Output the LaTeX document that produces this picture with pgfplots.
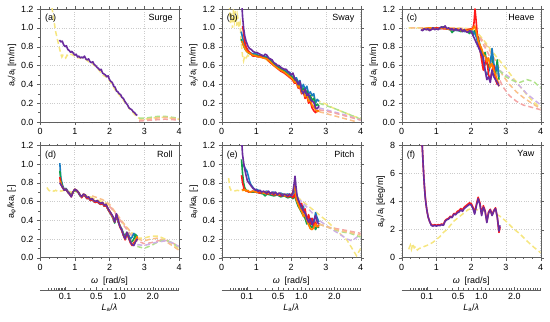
\documentclass[border=0pt]{standalone}
\usepackage{fontspec}
\setmainfont{Liberation Sans}
\usepackage{pgfplots}
\pgfplotsset{compat=1.18}
\definecolor{cyel}{HTML}{F6E680}
\definecolor{clgreen}{HTML}{B0E28A}
\definecolor{clpink}{HTML}{F4A6A6}
\definecolor{clorange}{HTML}{F9C08A}
\definecolor{clpurple}{HTML}{CDB0E6}
\definecolor{cblue}{HTML}{1A7CC1}
\definecolor{cgreen}{HTML}{12A04A}
\definecolor{cred}{HTML}{FF1A1A}
\definecolor{corange}{HTML}{FF8000}
\definecolor{cpurple}{HTML}{6A2C9E}
\definecolor{cframe}{HTML}{606060}
\tikzset{sol/.style={line width=1.6bp, line join=round},
  dsh/.style={line width=1.5bp, dash pattern=on 5bp off 3bp}}
\pgfplotsset{
  panel/.style={scale only axis, width=139bp, height=113bp,
    anchor=south west,
    xmin=0, xmax=4, ymin=0, ymax=1.2,
    xtick={0,1,2,3,4}, ytick={0,0.2,...,1.2},
    minor x tick num=3, minor y tick num=1,
    tick align=outside, major tick length=3bp, minor tick length=1.5bp,
    grid=major, grid style={dotted, line width=0.6bp, gray!40},
    axis line style={cframe}, tick style={cframe},
    font=\fontsize{9}{10.5}\selectfont,
    tick label style={font=\fontsize{9}{10.5}\selectfont, /pgf/number format/assume math mode=true},
    yticklabel style={/pgf/number format/fixed, /pgf/number format/fixed zerofill, /pgf/number format/precision=1},
    xticklabel style={/pgf/number format/fixed},
    label style={font=\fontsize{9}{10.5}\selectfont},
    ylabel shift=-2bp,
  },
  sec/.style={scale only axis, width=139bp, height=1bp, anchor=south west,
    xmin=0, xmax=4, ymin=0, ymax=1,
    axis x line*=bottom, axis y line=none,
    xtick={0.7255,1.6222,2.2942,3.2444}, xticklabels={0.1,0.5,1.0,2.0},
    minor xtick={0.2294,0.3244,0.3974,0.4588,0.5130,0.5620,0.6070,0.6489,0.6882,1.0260,1.2566,1.4510,1.7771,1.9194,2.0520,2.1764,2.4062,2.5131,2.6157,2.7145,2.8098,2.9019,2.9912,3.0779,3.1623,3.3245,3.4028,3.4793,3.5541,3.6274,3.6992,3.7697,3.8389,3.9068,3.9736},
    xtick align=inside, major tick length=3bp, minor tick length=2bp,
    axis line style={cframe}, tick style={cframe},
    tick label style={font=\fontsize{9}{10.5}\selectfont},
    xlabel={\textit{L}\textsubscript{a}/\textit{λ}},
    label style={font=\fontsize{9}{10.5}\selectfont},
    xlabel shift=-3bp,
  }
}
\begin{document}
\begin{tikzpicture}
\useasboundingbox (0,0) rectangle (550bp,322bp);
% ---------------- (a) Surge
\begin{axis}[panel, at={(40bp,200bp)}, ylabel={a\textsubscript{x}/a\textsubscript{i} [m/m]}]
\addplot[dsh, cyel] coordinates {(0.30,1.30)(0.35,1.2)(0.40,1.08)(0.45,0.96)(0.50,0.88)(0.55,0.80)(0.60,0.72)(0.63,0.69)(0.66,0.71)(0.70,0.70)(0.74,0.68)(0.78,0.71)(0.82,0.70)(0.90,0.72)(1.00,0.70)(1.10,0.68)(1.20,0.68)(1.30,0.67)(1.40,0.64)(1.50,0.62)(1.60,0.59)(1.70,0.55)(1.80,0.50)(1.90,0.48)(2.00,0.44)(2.10,0.38)(2.20,0.32)(2.30,0.28)(2.40,0.23)(2.50,0.18)(2.60,0.13)(2.70,0.09)(2.80,0.05)(2.90,0.03)(3.00,0.03)(3.20,0.04)(3.40,0.05)(3.60,0.05)(3.80,0.04)(4.00,0.03)};
\addplot[dsh, clgreen] coordinates {(2.85,0.04)(3.0,0.04)(3.2,0.05)(3.4,0.06)(3.6,0.06)(3.8,0.05)(4.0,0.04)};
\addplot[dsh, clorange] coordinates {(2.85,0.02)(3.0,0.02)(3.3,0.04)(3.6,0.05)(3.8,0.04)(4.0,0.03)};
\addplot[dsh, clpink] coordinates {(2.85,0.01)(3.2,0.02)(3.6,0.03)(4.0,0.02)};
\addplot[sol, cpurple] coordinates {(0.56,0.87)(0.60,0.85)(0.64,0.86)(0.68,0.82)(0.72,0.80)(0.76,0.81)(0.80,0.77)(0.84,0.76)(0.88,0.74)(0.92,0.75)(0.96,0.73)(1.00,0.71)(1.04,0.72)(1.08,0.69)(1.12,0.70)(1.16,0.68)(1.20,0.69)(1.24,0.68)(1.28,0.70)(1.32,0.67)(1.36,0.66)(1.40,0.67)(1.44,0.64)(1.48,0.63)(1.52,0.64)(1.56,0.61)(1.60,0.60)(1.64,0.58)(1.68,0.57)(1.72,0.55)(1.76,0.56)(1.80,0.52)(1.84,0.51)(1.88,0.50)(1.92,0.48)(1.96,0.49)(2.00,0.45)(2.04,0.43)(2.08,0.42)(2.12,0.38)(2.16,0.37)(2.20,0.33)(2.24,0.32)(2.28,0.30)(2.32,0.29)(2.36,0.26)(2.40,0.25)(2.44,0.22)(2.48,0.20)(2.52,0.18)(2.56,0.15)(2.60,0.14)(2.64,0.13)(2.68,0.11)(2.72,0.10)(2.76,0.08)(2.80,0.07)};
\node[anchor=north west, inner sep=0pt] at (rel axis cs:0.035,0.955) {(a)};
\node[anchor=north east, inner sep=0pt] at (rel axis cs:0.955,0.955) {Surge};
\end{axis}
% ---------------- (b) Sway
\begin{axis}[panel, at={(221.7bp,200bp)}, ylabel={a\textsubscript{y}/a\textsubscript{i} [m/m]}]
\addplot[dsh, cyel] coordinates {(0.22,1.25)(0.25,1.05)(0.28,1.15)(0.31,1.0)(0.34,1.2)(0.37,1.08)(0.40,1.18)(0.43,1.02)(0.46,1.12)(0.50,1.0)(0.53,1.05)(0.56,0.85)(0.60,0.70)(0.63,0.65)(0.66,0.70)(0.70,0.68)(0.75,0.71)(0.80,0.69)(0.85,0.70)(0.90,0.71)(1.00,0.70)(1.20,0.68)(1.40,0.63)(1.60,0.58)(1.80,0.53)(2.00,0.48)(2.20,0.40)(2.40,0.33)(2.60,0.28)(2.80,0.22)(3.00,0.19)(3.20,0.15)(3.40,0.12)(3.60,0.09)(3.80,0.06)(4.00,0.04)};
\addplot[dsh, clgreen] coordinates {(2.8,0.20)(3.2,0.15)(3.6,0.09)(4.0,0.03)};
\addplot[dsh, clpurple] coordinates {(2.8,0.15)(3.2,0.11)(3.6,0.07)(4.0,0.02)};
\addplot[dsh, clpink] coordinates {(2.8,0.13)(3.2,0.10)(3.6,0.06)(4.0,0.02)};
\addplot[dsh, clorange] coordinates {(2.8,0.11)(3.2,0.07)(3.6,0.03)(3.9,0.0)};
\addplot[sol, cblue] coordinates {(0.56,0.96)(0.60,0.90)(0.64,0.84)(0.68,0.80)(0.72,0.78)(0.76,0.76)(0.80,0.74)(0.85,0.73)(0.90,0.72)(0.95,0.73)(1.00,0.72)(1.05,0.71)(1.10,0.70)(1.15,0.71)(1.20,0.70)(1.25,0.69)(1.30,0.70)(1.35,0.67)(1.40,0.66)(1.45,0.64)(1.50,0.62)(1.55,0.61)(1.60,0.60)(1.65,0.58)(1.70,0.57)(1.75,0.56)(1.80,0.55)(1.85,0.54)(1.90,0.52)(1.95,0.53)(2.00,0.50)(2.05,0.51)(2.10,0.46)(2.15,0.47)(2.20,0.42)(2.25,0.44)(2.30,0.36)(2.35,0.40)(2.40,0.34)(2.45,0.38)(2.50,0.30)(2.55,0.32)(2.60,0.28)(2.65,0.30)(2.70,0.20)(2.75,0.24)(2.80,0.22)};
\addplot[sol, cgreen] coordinates {(0.56,0.88)(0.60,0.84)(0.64,0.80)(0.68,0.77)(0.72,0.75)(0.78,0.73)(0.85,0.72)(0.90,0.71)(1.00,0.71)(1.05,0.70)(1.10,0.70)(1.20,0.69)(1.30,0.68)(1.35,0.66)(1.40,0.65)(1.50,0.61)(1.60,0.59)(1.70,0.56)(1.80,0.54)(1.90,0.51)(2.00,0.49)(2.05,0.47)(2.10,0.44)(2.15,0.45)(2.20,0.39)(2.25,0.40)(2.30,0.33)(2.35,0.36)(2.40,0.30)(2.45,0.33)(2.50,0.26)(2.55,0.28)(2.60,0.23)(2.65,0.25)(2.70,0.17)(2.75,0.19)(2.80,0.17)};
\addplot[sol, cred] coordinates {(0.60,1.02)(0.63,0.95)(0.66,0.86)(0.70,0.80)(0.75,0.76)(0.80,0.74)(0.85,0.72)(0.90,0.70)(1.00,0.70)(1.05,0.69)(1.10,0.70)(1.20,0.68)(1.30,0.67)(1.40,0.63)(1.50,0.60)(1.60,0.57)(1.70,0.54)(1.80,0.52)(1.90,0.49)(2.00,0.46)(2.05,0.44)(2.10,0.41)(2.15,0.42)(2.20,0.36)(2.25,0.37)(2.30,0.30)(2.35,0.32)(2.40,0.25)(2.45,0.28)(2.50,0.20)(2.55,0.22)(2.60,0.15)(2.65,0.12)(2.70,0.10)(2.75,0.12)(2.80,0.12)};
\addplot[sol, corange] coordinates {(0.58,0.86)(0.62,0.82)(0.66,0.79)(0.70,0.76)(0.75,0.74)(0.80,0.73)(0.90,0.71)(1.00,0.70)(1.10,0.69)(1.20,0.68)(1.30,0.67)(1.40,0.64)(1.50,0.60)(1.60,0.57)(1.70,0.55)(1.80,0.53)(1.90,0.50)(2.00,0.47)(2.05,0.45)(2.10,0.42)(2.15,0.43)(2.20,0.37)(2.25,0.38)(2.30,0.31)(2.35,0.33)(2.40,0.27)(2.45,0.29)(2.50,0.22)(2.55,0.24)(2.60,0.18)(2.65,0.16)(2.70,0.13)(2.75,0.11)(2.80,0.12)};
\addplot[sol, cpurple] coordinates {(0.58,1.25)(0.60,1.12)(0.63,1.00)(0.66,0.92)(0.70,0.86)(0.75,0.81)(0.80,0.78)(0.85,0.77)(0.90,0.75)(0.95,0.74)(1.00,0.74)(1.05,0.73)(1.10,0.72)(1.15,0.71)(1.20,0.70)(1.25,0.72)(1.30,0.71)(1.35,0.68)(1.40,0.67)(1.45,0.66)(1.50,0.63)(1.55,0.62)(1.60,0.60)(1.65,0.60)(1.70,0.58)(1.75,0.57)(1.80,0.56)(1.85,0.56)(1.90,0.54)(1.95,0.52)(2.00,0.50)(2.05,0.52)(2.10,0.46)(2.15,0.44)(2.20,0.40)(2.25,0.43)(2.30,0.33)(2.35,0.30)(2.40,0.35)(2.45,0.28)(2.50,0.30)(2.55,0.24)(2.60,0.22)(2.65,0.21)(2.70,0.15)(2.75,0.14)(2.80,0.17)};
\node[anchor=north west, inner sep=0pt] at (rel axis cs:0.035,0.955) {(b)};
\node[anchor=north east, inner sep=0pt] at (rel axis cs:0.955,0.955) {Sway};
\end{axis}
% ---------------- (c) Heave
\begin{axis}[panel, at={(401.7bp,200bp)}, ylabel={a\textsubscript{z}/a\textsubscript{i} [m/m]}]
\addplot[dsh, cyel] coordinates {(0.20,1.0)(0.5,1.0)(1.0,1.0)(1.5,1.0)(2.0,0.99)(2.2,0.94)(2.4,0.85)(2.6,0.75)(2.8,0.66)(3.0,0.57)(3.2,0.47)(3.4,0.38)(3.6,0.29)(3.8,0.21)(4.0,0.15)};
\addplot[dsh, clorange] coordinates {(0.25,1.0)(0.8,1.0)(1.5,1.0)(1.9,0.99)(2.1,0.96)(2.3,0.88)(2.5,0.78)(2.7,0.65)(2.9,0.50)(3.1,0.40)(3.3,0.32)(3.5,0.26)(3.7,0.21)(4.0,0.14)};
\addplot[dsh, clpink] coordinates {(2.1,0.97)(2.3,0.86)(2.5,0.72)(2.7,0.55)(2.9,0.38)(3.1,0.28)(3.3,0.22)(3.5,0.18)(3.7,0.16)(3.9,0.14)(4.0,0.13)};
\addplot[dsh, clpurple] coordinates {(2.8,0.55)(3.0,0.50)(3.2,0.45)(3.4,0.38)(3.6,0.30)(3.8,0.24)(4.0,0.18)};
\addplot[dsh, clgreen] coordinates {(2.8,0.55)(3.0,0.48)(3.2,0.44)(3.4,0.42)(3.6,0.45)(3.8,0.43)(4.0,0.36)};
\addplot[sol, cgreen] coordinates {(0.6,0.98)(0.7,0.99)(0.8,0.98)(0.9,1.0)(1.0,0.99)(1.1,1.0)(1.2,1.01)(1.3,0.99)(1.4,0.98)(1.45,0.95)(1.5,0.97)(1.6,0.98)(1.7,0.96)(1.8,0.97)(1.9,0.96)(1.95,0.94)(2.0,0.96)(2.05,0.93)(2.1,0.97)(2.15,0.92)(2.2,0.90)(2.25,0.82)(2.3,0.75)(2.35,0.70)(2.4,0.74)(2.45,0.62)(2.5,0.58)(2.55,0.66)(2.6,0.72)(2.65,0.55)(2.7,0.50)(2.75,0.66)(2.8,0.45)};
\addplot[sol, cblue] coordinates {(0.7,0.98)(0.8,0.99)(0.9,0.99)(1.0,1.0)(1.1,0.99)(1.2,1.0)(1.3,0.99)(1.4,0.98)(1.5,0.98)(1.6,0.97)(1.7,0.98)(1.8,0.96)(1.9,0.97)(2.0,0.97)(2.05,0.96)(2.1,0.94)(2.15,0.90)(2.2,0.82)(2.25,0.76)(2.3,0.70)(2.35,0.62)(2.4,0.55)(2.45,0.50)(2.5,0.53)(2.55,0.60)(2.6,0.78)(2.65,0.62)(2.7,0.55)(2.75,0.60)(2.8,0.48)};
\addplot[sol, cred] coordinates {(0.6,0.99)(0.8,0.98)(1.0,1.0)(1.2,0.99)(1.4,0.99)(1.6,0.98)(1.8,0.97)(1.9,0.98)(2.0,0.99)(2.05,1.0)(2.08,1.05)(2.11,1.20)(2.14,1.08)(2.17,0.95)(2.2,0.88)(2.25,0.78)(2.3,0.66)(2.35,0.55)(2.4,0.62)(2.45,0.68)(2.5,0.50)(2.55,0.45)(2.6,0.55)(2.65,0.60)(2.7,0.45)(2.75,0.40)(2.8,0.42)};
\addplot[sol, corange] coordinates {(0.6,0.99)(0.8,1.0)(1.0,0.99)(1.2,1.0)(1.4,0.98)(1.6,0.99)(1.7,0.97)(1.8,0.98)(1.9,0.97)(2.0,0.98)(2.05,0.99)(2.1,1.02)(2.15,0.95)(2.2,0.86)(2.25,0.82)(2.3,0.78)(2.35,0.72)(2.4,0.70)(2.45,0.64)(2.5,0.68)(2.55,0.58)(2.6,0.62)(2.65,0.55)(2.7,0.50)(2.75,0.45)(2.8,0.38)};
\addplot[sol, cpurple] coordinates {(0.55,0.98)(0.6,0.97)(0.65,0.99)(0.7,0.98)(0.75,0.99)(0.8,0.97)(0.85,0.98)(0.9,1.0)(0.95,0.98)(1.0,0.99)(1.05,0.98)(1.1,1.0)(1.15,1.01)(1.2,1.0)(1.25,1.02)(1.3,0.99)(1.35,1.0)(1.4,0.98)(1.45,0.99)(1.5,0.97)(1.55,0.99)(1.6,0.98)(1.65,0.97)(1.7,0.99)(1.75,0.96)(1.8,0.98)(1.85,0.96)(1.9,0.95)(1.95,0.97)(2.0,0.96)(2.05,0.92)(2.1,0.88)(2.15,0.84)(2.2,0.80)(2.25,0.76)(2.3,0.72)(2.35,0.68)(2.4,0.55)(2.45,0.45)(2.5,0.48)(2.55,0.42)(2.6,0.55)(2.65,0.48)(2.7,0.45)(2.75,0.42)(2.8,0.38)};
\node[anchor=north west, inner sep=0pt] at (rel axis cs:0.035,0.955) {(c)};
\node[anchor=north east, inner sep=0pt] at (rel axis cs:0.955,0.955) {Heave};
\end{axis}
% ---------------- (d) Roll
\begin{axis}[panel, at={(40bp,64.3bp)}, height=112.4bp, ylabel={a\textsubscript{φ}/ka\textsubscript{i} [-]}, xlabel={\textit{ω}\ \ [rad/s]}]
\addplot[dsh, cyel] coordinates {(0.20,0.75)(0.25,0.72)(0.30,0.71)(0.35,0.72)(0.40,0.71)(0.45,0.72)(0.50,0.71)(0.55,0.72)(0.60,0.71)(0.70,0.72)(0.80,0.71)(0.90,0.70)(1.0,0.71)(1.2,0.68)(1.4,0.66)(1.6,0.62)(1.8,0.60)(2.0,0.56)(2.2,0.46)(2.4,0.36)(2.6,0.28)(2.8,0.21)(3.0,0.21)(3.2,0.23)(3.4,0.23)(3.6,0.20)(3.8,0.15)(4.0,0.09)};
\addplot[dsh, clorange] coordinates {(1.5,0.66)(1.8,0.62)(2.0,0.57)(2.2,0.47)(2.4,0.37)(2.6,0.28)(2.8,0.20)(3.0,0.18)(3.2,0.20)(3.4,0.21)(3.6,0.18)(3.8,0.13)(4.0,0.08)};
\addplot[dsh, clpink] coordinates {(2.0,0.55)(2.2,0.46)(2.4,0.35)(2.6,0.25)(2.8,0.18)(3.0,0.15)(3.2,0.16)(3.5,0.19)(3.7,0.18)(4.0,0.12)};
\addplot[dsh, clgreen] coordinates {(2.8,0.12)(3.0,0.10)(3.2,0.13)(3.4,0.17)(3.6,0.19)(3.8,0.16)(4.0,0.11)};
\addplot[dsh, clpurple] coordinates {(2.8,0.14)(3.0,0.13)(3.3,0.16)(3.6,0.18)(3.8,0.16)(4.0,0.12)};
\addplot[sol, cblue] coordinates {(0.57,1.01)(0.60,0.85)(0.65,0.77)(0.70,0.73)(0.75,0.74)(0.80,0.71)(0.85,0.69)(0.90,0.66)(0.95,0.70)(1.00,0.73)(1.05,0.72)(1.10,0.70)(1.15,0.67)(1.20,0.65)(1.25,0.67)(1.30,0.66)(1.35,0.63)(1.40,0.64)(1.45,0.61)(1.50,0.62)(1.55,0.60)(1.60,0.59)(1.65,0.60)(1.70,0.58)(1.75,0.57)(1.80,0.58)(1.85,0.55)(1.90,0.56)(1.95,0.52)(2.00,0.49)(2.05,0.46)(2.10,0.43)(2.15,0.40)(2.20,0.44)(2.25,0.38)(2.30,0.34)(2.35,0.31)(2.40,0.26)(2.45,0.23)(2.50,0.27)(2.55,0.24)(2.60,0.20)(2.65,0.22)(2.70,0.26)(2.75,0.22)(2.80,0.24)};
\addplot[sol, cgreen] coordinates {(0.57,0.93)(0.60,0.82)(0.65,0.76)(0.70,0.72)(0.75,0.73)(0.80,0.70)(0.85,0.68)(0.90,0.66)(0.95,0.70)(1.00,0.72)(1.05,0.71)(1.10,0.70)(1.15,0.66)(1.20,0.65)(1.25,0.67)(1.30,0.66)(1.35,0.64)(1.40,0.64)(1.45,0.62)(1.50,0.62)(1.55,0.60)(1.60,0.60)(1.65,0.60)(1.70,0.58)(1.75,0.58)(1.80,0.58)(1.85,0.55)(1.90,0.56)(1.95,0.52)(2.00,0.49)(2.05,0.46)(2.10,0.42)(2.15,0.37)(2.20,0.45)(2.25,0.39)(2.30,0.34)(2.35,0.30)(2.40,0.25)(2.45,0.21)(2.50,0.27)(2.55,0.23)(2.60,0.18)(2.65,0.17)(2.70,0.20)(2.75,0.25)(2.80,0.21)};
\addplot[sol, cred] coordinates {(0.57,0.86)(0.60,0.79)(0.65,0.75)(0.70,0.72)(0.75,0.73)(0.80,0.70)(0.85,0.68)(0.90,0.65)(0.95,0.70)(1.00,0.73)(1.05,0.72)(1.10,0.70)(1.15,0.67)(1.20,0.64)(1.25,0.67)(1.30,0.66)(1.35,0.63)(1.40,0.64)(1.45,0.61)(1.50,0.62)(1.55,0.60)(1.60,0.59)(1.65,0.60)(1.70,0.58)(1.75,0.57)(1.80,0.58)(1.85,0.55)(1.90,0.56)(1.95,0.52)(2.00,0.49)(2.05,0.46)(2.10,0.43)(2.15,0.38)(2.20,0.46)(2.25,0.39)(2.30,0.33)(2.35,0.29)(2.40,0.24)(2.45,0.19)(2.50,0.26)(2.55,0.21)(2.60,0.16)(2.65,0.13)(2.70,0.16)(2.75,0.18)(2.80,0.22)};
\addplot[sol, corange] coordinates {(0.58,0.82)(0.62,0.77)(0.65,0.75)(0.70,0.72)(0.75,0.73)(0.80,0.70)(0.85,0.68)(0.90,0.66)(0.95,0.70)(1.00,0.73)(1.05,0.72)(1.10,0.70)(1.15,0.67)(1.20,0.65)(1.25,0.68)(1.30,0.67)(1.35,0.64)(1.40,0.65)(1.45,0.62)(1.50,0.63)(1.55,0.61)(1.60,0.60)(1.65,0.61)(1.70,0.59)(1.75,0.58)(1.80,0.59)(1.85,0.56)(1.90,0.57)(1.95,0.53)(2.00,0.50)(2.05,0.47)(2.10,0.43)(2.15,0.39)(2.20,0.46)(2.25,0.40)(2.30,0.33)(2.35,0.30)(2.40,0.24)(2.45,0.20)(2.50,0.27)(2.55,0.22)(2.60,0.17)(2.65,0.14)(2.70,0.14)(2.75,0.19)(2.80,0.23)};
\addplot[sol, cpurple] coordinates {(0.57,0.80)(0.60,0.78)(0.65,0.75)(0.70,0.72)(0.75,0.73)(0.80,0.70)(0.85,0.68)(0.90,0.65)(0.95,0.70)(1.00,0.73)(1.05,0.72)(1.10,0.70)(1.15,0.67)(1.20,0.65)(1.25,0.68)(1.30,0.67)(1.35,0.64)(1.40,0.65)(1.45,0.62)(1.50,0.63)(1.55,0.61)(1.60,0.60)(1.65,0.61)(1.70,0.59)(1.75,0.58)(1.80,0.59)(1.85,0.56)(1.90,0.57)(1.95,0.53)(2.00,0.50)(2.05,0.47)(2.10,0.44)(2.15,0.38)(2.20,0.47)(2.25,0.40)(2.30,0.33)(2.35,0.30)(2.40,0.24)(2.45,0.20)(2.50,0.27)(2.55,0.22)(2.60,0.17)(2.65,0.14)(2.70,0.13)(2.75,0.17)(2.80,0.20)};
\node[anchor=north west, inner sep=0pt] at (rel axis cs:0.035,0.955) {(d)};
\node[anchor=north east, inner sep=0pt] at (rel axis cs:0.955,0.955) {Roll};
\end{axis}
% ---------------- (e) Pitch
\begin{axis}[panel, at={(221.7bp,64.3bp)}, height=112.4bp, ylabel={a\textsubscript{θ}/ka\textsubscript{i} [-]}, xlabel={\textit{ω}\ \ [rad/s]}]
\addplot[dsh, cyel] coordinates {(0.20,0.85)(0.23,0.75)(0.27,0.72)(0.35,0.71)(0.45,0.72)(0.55,0.71)(0.65,0.72)(0.75,0.71)(0.85,0.70)(1.0,0.70)(1.2,0.70)(1.5,0.69)(1.8,0.68)(2.0,0.68)(2.2,0.64)(2.4,0.58)(2.6,0.52)(2.8,0.46)(3.0,0.40)(3.2,0.33)(3.4,0.26)(3.6,0.19)(3.75,0.10)(3.88,0.02)(4.0,0.10)};
\addplot[dsh, clpurple] coordinates {(2.0,0.68)(2.3,0.60)(2.6,0.48)(2.8,0.40)(3.1,0.32)(3.4,0.25)(3.6,0.20)(3.75,0.18)(4.0,0.25)};
\addplot[dsh, clpink] coordinates {(2.8,0.36)(3.0,0.33)(3.3,0.31)(3.6,0.29)(4.0,0.26)};
\addplot[dsh, clgreen] coordinates {(2.8,0.36)(3.1,0.32)(3.4,0.28)(3.7,0.26)(4.0,0.22)};
\addplot[dsh, clorange] coordinates {(2.8,0.36)(3.1,0.32)(3.4,0.29)(3.7,0.27)(4.0,0.24)};
\addplot[sol, cblue] coordinates {(0.60,1.00)(0.64,0.98)(0.68,0.95)(0.72,0.93)(0.76,0.88)(0.80,0.82)(0.84,0.78)(0.88,0.76)(0.92,0.74)(0.96,0.72)(1.00,0.73)(1.10,0.71)(1.20,0.70)(1.30,0.71)(1.40,0.69)(1.50,0.70)(1.60,0.68)(1.70,0.69)(1.80,0.67)(1.90,0.68)(2.00,0.66)(2.05,0.68)(2.10,0.72)(2.15,0.68)(2.20,0.62)(2.25,0.55)(2.30,0.50)(2.35,0.55)(2.40,0.45)(2.45,0.40)(2.50,0.45)(2.55,0.38)(2.60,0.42)(2.65,0.35)(2.70,0.48)(2.75,0.42)(2.80,0.38)};
\addplot[sol, cgreen] coordinates {(0.57,1.05)(0.60,0.90)(0.63,0.80)(0.66,0.75)(0.70,0.72)(0.75,0.71)(0.80,0.70)(0.90,0.70)(1.00,0.70)(1.10,0.69)(1.20,0.68)(1.25,0.66)(1.30,0.68)(1.40,0.67)(1.50,0.66)(1.60,0.67)(1.70,0.65)(1.80,0.66)(1.90,0.64)(2.00,0.65)(2.05,0.63)(2.10,0.66)(2.15,0.60)(2.20,0.55)(2.25,0.52)(2.30,0.48)(2.35,0.45)(2.40,0.42)(2.45,0.36)(2.50,0.40)(2.55,0.34)(2.60,0.32)(2.65,0.36)(2.70,0.30)(2.75,0.34)(2.80,0.32)};
\addplot[sol, cred] coordinates {(0.57,0.88)(0.60,0.80)(0.64,0.74)(0.68,0.72)(0.72,0.71)(0.80,0.70)(0.90,0.71)(1.00,0.70)(1.10,0.69)(1.20,0.70)(1.30,0.68)(1.40,0.69)(1.50,0.67)(1.60,0.68)(1.70,0.66)(1.80,0.67)(1.90,0.65)(2.00,0.66)(2.05,0.64)(2.10,0.68)(2.15,0.62)(2.20,0.60)(2.25,0.55)(2.30,0.58)(2.35,0.48)(2.40,0.52)(2.45,0.40)(2.50,0.46)(2.55,0.36)(2.60,0.42)(2.65,0.34)(2.70,0.38)(2.75,0.33)(2.80,0.35)};
\addplot[sol, corange] coordinates {(0.58,0.73)(0.62,0.72)(0.66,0.73)(0.70,0.71)(0.75,0.72)(0.80,0.70)(0.90,0.71)(1.00,0.70)(1.10,0.71)(1.20,0.69)(1.30,0.70)(1.40,0.68)(1.50,0.69)(1.60,0.67)(1.70,0.68)(1.80,0.66)(1.90,0.67)(2.00,0.67)(2.05,0.70)(2.10,0.78)(2.15,0.62)(2.20,0.57)(2.25,0.52)(2.30,0.50)(2.35,0.44)(2.40,0.46)(2.45,0.40)(2.50,0.35)(2.55,0.31)(2.60,0.30)(2.65,0.32)(2.70,0.36)(2.75,0.33)(2.80,0.34)};
\addplot[sol, cpurple] coordinates {(0.58,1.22)(0.60,1.10)(0.63,1.02)(0.66,0.95)(0.70,0.88)(0.74,0.82)(0.78,0.80)(0.82,0.78)(0.86,0.76)(0.90,0.74)(0.95,0.73)(1.00,0.72)(1.05,0.71)(1.10,0.72)(1.15,0.70)(1.20,0.71)(1.30,0.69)(1.35,0.71)(1.40,0.68)(1.45,0.70)(1.50,0.68)(1.55,0.70)(1.60,0.67)(1.65,0.69)(1.70,0.68)(1.75,0.66)(1.80,0.68)(1.85,0.67)(1.90,0.66)(1.95,0.68)(2.00,0.66)(2.05,0.70)(2.08,0.78)(2.11,0.87)(2.14,0.75)(2.17,0.66)(2.20,0.62)(2.25,0.58)(2.30,0.55)(2.35,0.50)(2.40,0.48)(2.45,0.42)(2.50,0.38)(2.55,0.42)(2.60,0.35)(2.65,0.40)(2.70,0.45)(2.75,0.38)(2.80,0.36)};
\node[anchor=north west, inner sep=0pt] at (rel axis cs:0.035,0.955) {(e)};
\node[anchor=north east, inner sep=0pt] at (rel axis cs:0.955,0.955) {Pitch};
\end{axis}
% ---------------- (f) Yaw
\begin{axis}[panel, at={(401.7bp,64.3bp)}, height=112.4bp, ymin=0, ymax=8, ytick={0,2,4,6,8}, yticklabel style={/pgf/number format/precision=0, /pgf/number format/fixed zerofill=false}, ylabel={a\textsubscript{ψ}/a\textsubscript{i} [deg/m]}, xlabel={\textit{ω}\ \ [rad/s]}]
\addplot[dsh, cyel] coordinates {(0.20,0.6)(0.25,0.9)(0.28,0.6)(0.32,1.0)(0.36,0.7)(0.40,0.8)(0.45,0.55)(0.50,0.65)(0.60,0.75)(0.70,0.85)(0.80,0.95)(0.90,1.1)(1.00,1.3)(1.10,1.5)(1.20,1.8)(1.30,2.0)(1.40,2.3)(1.50,2.6)(1.60,2.8)(1.70,3.0)(1.80,3.2)(1.90,3.4)(2.00,3.5)(2.10,3.45)(2.20,3.4)(2.40,3.3)(2.60,3.15)(2.80,3.0)(3.00,2.6)(3.20,2.1)(3.40,1.7)(3.60,1.2)(3.80,0.75)(4.00,0.35)};
\addplot[sol, cred] coordinates {(0.58,8.5)(0.60,7.5)(0.62,6.5)(0.64,5.6)(0.66,4.9)(0.68,4.3)(0.70,3.8)(0.73,3.3)(0.76,2.9)(0.80,2.6)(0.85,2.35)(0.90,2.3)(0.95,2.35)(1.00,2.3)(1.05,2.35)(1.10,2.33)(1.15,2.4)(1.20,2.35)(1.25,2.65)(1.30,2.75)(1.35,2.8)(1.40,2.95)(1.45,2.9)(1.50,3.15)(1.55,3.1)(1.60,3.3)(1.65,3.35)(1.70,3.5)(1.75,3.4)(1.80,3.6)(1.85,3.7)(1.90,3.8)(1.95,3.9)(2.00,3.85)(2.05,3.6)(2.10,3.2)(2.15,3.8)(2.20,4.3)(2.25,3.9)(2.30,3.1)(2.35,3.7)(2.40,3.35)(2.45,2.55)(2.50,3.25)(2.55,3.45)(2.60,3.05)(2.65,3.35)(2.70,3.55)(2.75,2.9)(2.78,2.2)(2.80,1.8)(2.83,2.2)};
\addplot[sol, cpurple] coordinates {(0.58,8.5)(0.60,7.5)(0.62,6.5)(0.64,5.6)(0.66,4.8)(0.68,4.2)(0.70,3.8)(0.73,3.3)(0.76,2.9)(0.80,2.6)(0.85,2.3)(0.90,2.25)(0.95,2.3)(1.00,2.25)(1.05,2.3)(1.10,2.28)(1.15,2.35)(1.20,2.3)(1.25,2.6)(1.30,2.7)(1.35,2.75)(1.40,2.9)(1.45,2.85)(1.50,3.1)(1.55,3.05)(1.60,3.2)(1.65,3.25)(1.70,3.4)(1.75,3.3)(1.80,3.5)(1.85,3.6)(1.90,3.7)(1.95,3.8)(2.00,3.75)(2.05,3.5)(2.10,3.1)(2.15,3.7)(2.20,4.2)(2.25,3.8)(2.30,3.0)(2.35,3.6)(2.40,3.3)(2.45,2.5)(2.50,3.2)(2.55,3.4)(2.60,3.0)(2.65,3.3)(2.70,3.5)(2.75,2.9)(2.78,2.3)(2.80,1.9)(2.83,2.3)};
\node[anchor=north west, inner sep=0pt] at (rel axis cs:0.035,0.955) {(f)};
\node[anchor=north east, inner sep=0pt] at (rel axis cs:0.955,0.955) {Yaw};
\end{axis}
% ---------------- secondary L_a/lambda axes
\begin{axis}[sec, at={(40bp,32bp)}] \end{axis}
\begin{axis}[sec, at={(221.7bp,32bp)}] \end{axis}
\begin{axis}[sec, at={(401.7bp,32bp)}] \end{axis}
\end{tikzpicture}
\end{document}
